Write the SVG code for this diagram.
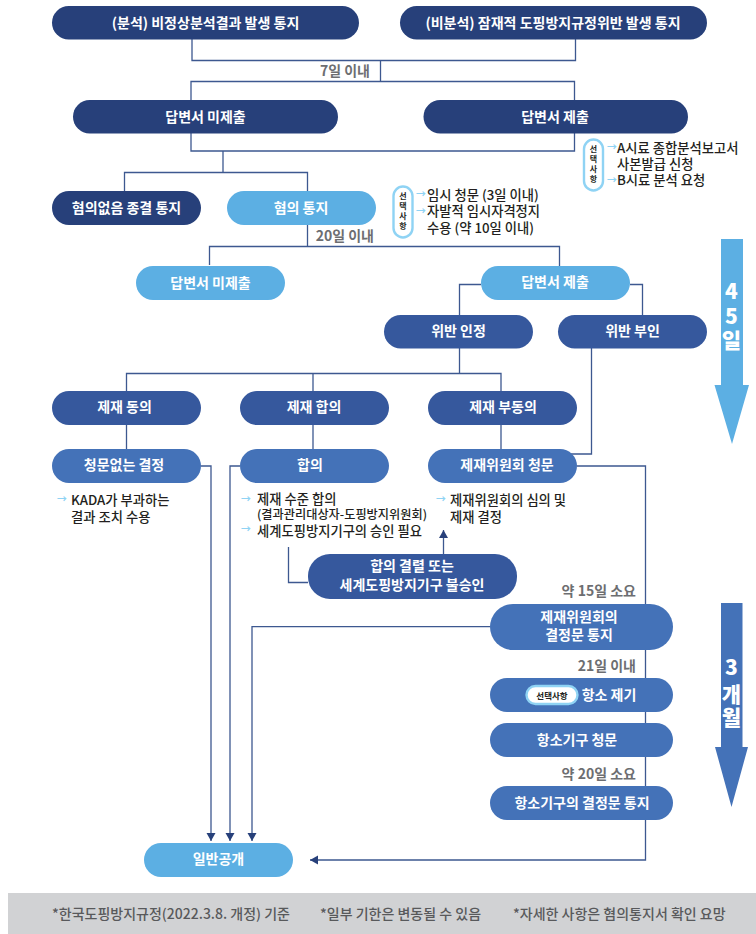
<svg xmlns="http://www.w3.org/2000/svg" width="756" height="934" viewBox="0 0 756 934">
<style>
text{font-family:"Noto Sans CJK KR","Noto Sans",sans-serif}
.n{font-size:14px;font-weight:700;fill:#fff;text-anchor:middle}
.g{font-size:14px;font-weight:700;fill:#6d6e71;text-anchor:end}
.t{font-size:13.3px;font-weight:500;fill:#231f20}
.s{font-size:12.2px}
.a{font-size:10px;fill:#8fd3f4;font-weight:700}
.c{font-size:8px;font-weight:700;fill:#231f20;text-anchor:middle}
.f{font-size:14px;font-weight:500;fill:#58595b}
.b{font-size:21px;font-weight:900;fill:#fff;text-anchor:middle}
.d1{fill:#27407a}.d2{fill:#36589d}.d3{fill:#4472b8}.l{fill:#5cafe3}
.cap{fill:#fff;stroke:#8fd3f4;stroke-width:2.4}
#connectors path{fill:none;stroke:#3d5890;stroke-width:1.3}
</style>
<defs><marker id="ah" markerUnits="userSpaceOnUse" markerWidth="11" markerHeight="11" refX="9" refY="5.500" orient="auto"><path d="M1 1L9 5.500L1 10Z" fill="#27407a"/></marker></defs>
<g id="connectors">
<path d="M192 39V60.500H575.500V39"/>
<path d="M380.500 60.500V81.500"/>
<path d="M191 100V81.500H574.500V100"/>
<path d="M191 133V151H574.500V133"/>
<path d="M223 151V172.500"/>
<path d="M124.500 191V172.500H307.500V191"/>
<path d="M307.500 225V246.500"/>
<path d="M209.500 265V246.500H559.500V266"/>
<path d="M481 284.500H459.500V315"/>
<path d="M630 284.500H642.500V315"/>
<path d="M459.500 348V373.500"/>
<path d="M126.500 391V373.500H501V391"/>
<path d="M313 373.500V391"/>
<path d="M126.500 425V449"/>
<path d="M313 425V449"/>
<path d="M501 425V449"/>
<path d="M591.500 348V454H570"/>
<path d="M201 466H211V841" marker-end="url(#ah)"/>
<path d="M240 466H230V841" marker-end="url(#ah)"/>
<path d="M490 626.700H252V841" marker-end="url(#ah)"/>
<path d="M577 466H645.500V860H310" marker-end="url(#ah)"/>
<path d="M288.500 547V582.500H308"/>
<path d="M443.500 554V530" marker-end="url(#ah)"/>
</g>
<g id="n1"><rect class="d1" x="52" y="6" width="307" height="33.500" rx="16.700"/><text class="n" x="205.500" y="28">(분석) 비정상분석결과 발생 통지</text></g>
<g id="n2"><rect class="d1" x="400" y="6" width="307" height="33.500" rx="16.700"/><text class="n" x="553" y="28">(비분석) 잠재적 도핑방지규정위반 발생 통지</text></g>
<g id="n3"><rect class="d1" x="73" y="100" width="265" height="33.500" rx="16.700"/><text class="n" x="205.500" y="122">답변서 미제출</text></g>
<g id="n4"><rect class="d1" x="423.500" y="100" width="264.500" height="33.500" rx="16.700"/><text class="n" x="555" y="122">답변서 제출</text></g>
<g id="n5"><rect class="d1" x="52" y="191" width="149" height="34" rx="17"/><text class="n" x="126.500" y="213">혐의없음 종결 통지</text></g>
<g id="n6"><rect class="l" x="227" y="191" width="149" height="34" rx="17"/><text class="n" x="301" y="213">혐의 통지</text></g>
<g id="n7"><rect class="l" x="136" y="266" width="149" height="34" rx="17"/><text class="n" x="210.500" y="288">답변서 미제출</text></g>
<g id="n8"><rect class="l" x="481" y="266" width="149" height="34" rx="17"/><text class="n" x="555" y="287">답변서 제출</text></g>
<g id="n9"><rect class="d2" x="384" y="315" width="149" height="33.500" rx="16.700"/><text class="n" x="458.500" y="336">위반 인정</text></g>
<g id="n10"><rect class="d2" x="558" y="315" width="149" height="33.500" rx="16.700"/><text class="n" x="632.500" y="336">위반 부인</text></g>
<g id="n11"><rect class="d2" x="52" y="391" width="149" height="34" rx="17"/><text class="n" x="124.500" y="412">제재 동의</text></g>
<g id="n12"><rect class="d2" x="240" y="391" width="149" height="34" rx="17"/><text class="n" x="314" y="412">제재 합의</text></g>
<g id="n13"><rect class="d2" x="428" y="391" width="149" height="34" rx="17"/><text class="n" x="503" y="412">제재 부동의</text></g>
<g id="n14"><rect class="d3" x="52" y="449" width="149" height="34" rx="17"/><text class="n" x="124" y="470">청문없는 결정</text></g>
<g id="n15"><rect class="d3" x="240" y="449" width="149" height="34" rx="17"/><text class="n" x="310" y="470">합의</text></g>
<g id="n16"><rect class="d3" x="428" y="449" width="149" height="34" rx="17"/><text class="n" x="507" y="470">제재위원회 청문</text></g>
<g id="n17"><rect class="d2" x="308" y="554" width="209" height="45" rx="22"/><text class="n" x="412" y="571">합의 결렬 또는<tspan x="412" y="590">세계도핑방지기구 불승인</tspan></text></g>
<g id="n18"><rect class="d3" x="490" y="604" width="183" height="46" rx="23"/><text class="n" x="579" y="622">제재위원회의<tspan x="579" y="640">결정문 통지</tspan></text></g>
<g id="n19"><rect class="d3" x="490" y="678" width="183" height="34" rx="17"/><rect x="526.500" y="686" width="51" height="18" rx="9" class="cap"/><text class="c" x="552" y="699" style="font-size:8.500px">선택사항</text><text class="n" x="609" y="700">항소 제기</text></g>
<g id="n20"><rect class="d3" x="490" y="723" width="183" height="34" rx="17"/><text class="n" x="577" y="745">항소기구 청문</text></g>
<g id="n21"><rect class="d3" x="490" y="786" width="183" height="34" rx="17"/><text class="n" x="582" y="808">항소기구의 결정문 통지</text></g>
<g id="n22"><rect class="l" x="144" y="843" width="149" height="34" rx="17"/><text class="n" x="218.500" y="864">일반공개</text></g>

<g id="labels">
<text class="g" x="370" y="76">7일 이내</text>
<text class="g" x="374" y="241">20일 이내</text>
<text class="g" x="636" y="596">약 15일 소요</text>
<text class="g" x="636" y="671">21일 이내</text>
<text class="g" x="636" y="779">약 20일 소요</text>
</g>
<g id="option-a">
<rect class="cap" x="584" y="139.500" width="19" height="51" rx="9.500"/>
<text class="c" x="593.500" y="152">선<tspan x="593.500" y="162">택</tspan><tspan x="593.500" y="172">사</tspan><tspan x="593.500" y="182">항</tspan></text>
<text class="a" x="607" y="151">→</text><text class="t" x="617" y="153">A시료 종합분석보고서<tspan x="617" y="169">사본발급 신청</tspan><tspan x="617" y="185">B시료 분석 요청</tspan></text>
<text class="a" x="607" y="184">→</text>
</g>
<g id="option-b">
<rect class="cap" x="393.500" y="186.500" width="19" height="51" rx="9.500"/>
<text class="c" x="403" y="199">선<tspan x="403" y="209">택</tspan><tspan x="403" y="219">사</tspan><tspan x="403" y="229">항</tspan></text>
<text class="a" x="416" y="198">→</text><text class="t" x="427" y="200">임시 청문 (3일 이내)<tspan x="427" y="216">자발적 임시자격정지</tspan><tspan x="427" y="233">수용 (약 10일 이내)</tspan></text>
<text class="a" x="416" y="215">→</text>
</g>
<g id="notes">
<text class="a" x="57" y="503">→</text><text class="t" x="71" y="505">KADA가 부과하는<tspan x="71" y="522">결과 조치 수용</tspan></text>
<text class="a" x="241" y="503">→</text><text class="t" x="257" y="504">제재 수준 합의</text><text class="t s" x="257" y="519">(결과관리대상자-도핑방지위원회)</text>
<text class="a" x="241" y="533">→</text><text class="t" x="257" y="536">세계도핑방지기구의 승인 필요</text>
<text class="a" x="436" y="503">→</text><text class="t" x="450" y="505">제재위원회의 심의 및<tspan x="450" y="522">제재 결정</tspan></text>
</g>
<g id="span-45">
<path d="M721 239H743V385H749L732 444L714.500 385H721Z" fill="#5cafe3"/>
<text class="b" x="731.500" y="299">4<tspan x="731.500" y="324">5</tspan><tspan x="731.500" y="348">일</tspan></text>
</g>
<g id="span-3m">
<path d="M721 603H742.500V747H748L731.500 807L715 747H721Z" fill="#4472b8"/>
<text class="b" x="731.500" y="675">3<tspan x="731.500" y="702">개</tspan><tspan x="731.500" y="725">월</tspan></text>
</g>
<g id="footer">
<rect x="8" y="893" width="748" height="41" fill="#d1d2d4"/>
<text class="f" x="52" y="919">*한국도핑방지규정(2022.3.8. 개정) 기준</text>
<text class="f" x="320" y="919">*일부 기한은 변동될 수 있음</text>
<text class="f" x="513" y="919">*자세한 사항은 혐의통지서 확인 요망</text>
</g>
</svg>
